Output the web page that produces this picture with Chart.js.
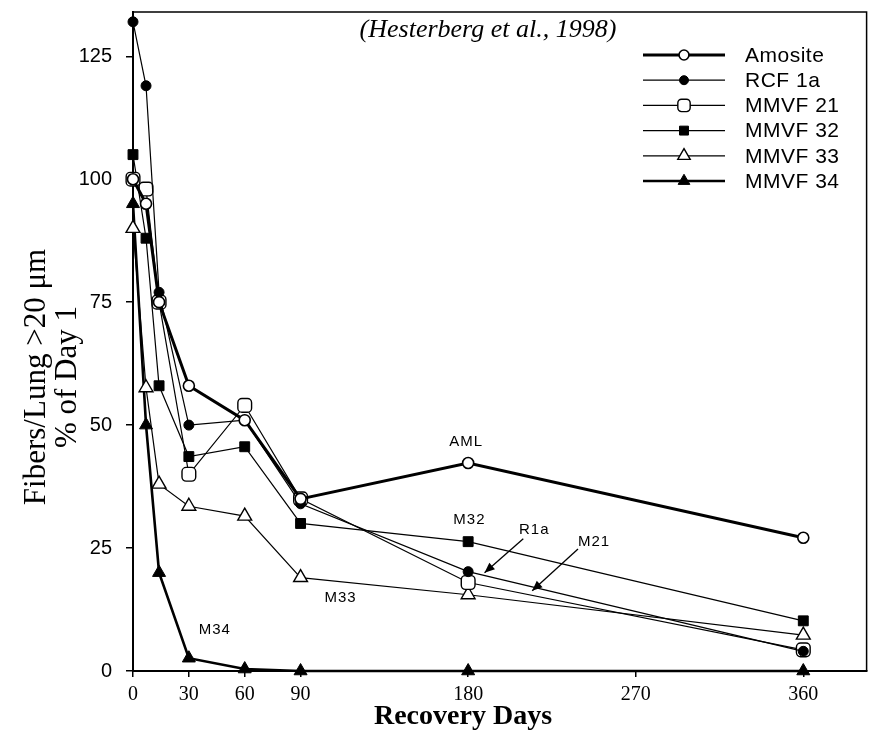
<!DOCTYPE html>
<html>
<head>
<meta charset="utf-8">
<script src="https://cdn.jsdelivr.net/npm/chart.js@4.4.1/dist/chart.umd.min.js"></script>
<style>
html,body{margin:0;padding:0;background:#fff;}
#wrap{width:876px;height:742px;}
</style>
</head>
<body>
<div id="wrap"><canvas id="c" width="876" height="742"></canvas></div>
<script>
// ---- data ----
const days = [0, 7, 14, 30, 60, 90, 180, 360];
const amosite = [100, 95, 75, 58, 51, 35, 42.3, 27.1];
const rcf1a = [132, 119, 77, 50, 51, 34, 20.2, 4];
const mmvf21 = [100, 98, 75, 40, 54, 35, 18, 4.3];
const mmvf32 = [105, 88, 58, 43.6, 45.6, 30, 26.3, 10.2];
const mmvf33 = [90, 57.6, 38, 33.5, 31.5, 19, 15.5, 7.3];
const mmvf34 = [95, 50, 20, 2.6, 0.4, 0, 0, 0];
const seriesNames = ['Amosite', 'RCF1a', 'MMVF21', 'MMVF32', 'MMVF33', 'MMVF34'];
const legendLabels = ['Amosite', 'RCF 1a', 'MMVF 21', 'MMVF 32', 'MMVF 33', 'MMVF 34'];
const xTickValues = [0, 30, 60, 90, 180, 270, 360];
const yTickStep = 25;
const chartTitle = '(Hesterberg et al., 1998)';
const xTitle = 'Recovery Days';
const yTitleLines = ['Fibers/Lung >20 \u03BCm', '% of Day 1'];
// in-plot labels (data coordinates)
const noteText = ['AML', 'M32', 'R1a', 'M21', 'M33', 'M34'];
const noteDay = [179, 180.7, 215.5, 247.6, 111.5, 43.9];
const noteVal = [46.6, 30.7, 28.7, 26.3, 14.9, 8.3];
const arrowFromDay = [209.6, 239];
const arrowFromVal = [26.9, 24.8];
const arrowToDay = [188.8, 214.4];
const arrowToVal = [20, 16.3];

function pts(vals){ return days.map((d,i)=>({x:d, y:vals[i]})); }

const styles = [
  {data:amosite, bw:3,   ps:'circle',      r:5.5, fill:'#fff', pbw:1.6},
  {data:rcf1a,   bw:1.2, ps:'circle',      r:5,   fill:'#000', pbw:1},
  {data:mmvf21,  bw:1.2, ps:'rectRounded', r:8,   fill:'#fff', pbw:1.4},
  {data:mmvf32,  bw:1.2, ps:'rect',        r:7,   fill:'#000', pbw:1},
  {data:mmvf33,  bw:1.2, ps:'triangle',    r:8,   fill:'#fff', pbw:1.4},
  {data:mmvf34,  bw:2.6, ps:'triangle',    r:7.5, fill:'#000', pbw:1}
];

const datasets = styles.map((s,i)=>({
  label: seriesNames[i],
  data: pts(s.data),
  borderColor:'#000',
  borderWidth:s.bw,
  pointStyle:s.ps,
  pointRadius:s.r,
  pointHoverRadius:s.r,
  pointBackgroundColor:s.fill,
  pointBorderColor:'#000',
  pointBorderWidth:s.pbw,
  tension:0,
  fill:false,
  clip:false
}));

const decor = {
  id:'decor',
  afterDraw(chart){
    const ctx = chart.ctx, a = chart.chartArea;
    const xs = chart.scales.x, ys = chart.scales.y;
    ctx.save();
    // frame top & right
    ctx.strokeStyle='#000'; ctx.lineWidth=1.5;
    ctx.beginPath();
    ctx.moveTo(a.left, a.top); ctx.lineTo(a.right, a.top); ctx.lineTo(a.right, a.bottom);
    ctx.stroke();
    // title
    ctx.fillStyle='#000';
    ctx.textAlign='center'; ctx.textBaseline='middle';
    ctx.font='italic 26px "Liberation Serif", "Times New Roman", serif';
    ctx.fillText(chartTitle, 488, 30);
    // x title
    ctx.font='bold 28px "Liberation Serif", "Times New Roman", serif';
    ctx.fillText(xTitle, 463, 717);
    // y title
    ctx.save();
    ctx.translate(37, 377); ctx.rotate(-Math.PI/2);
    ctx.font='31px "Liberation Serif", "Times New Roman", serif';
    ctx.fillText(yTitleLines[0], 0, 0);
    ctx.fillText(yTitleLines[1], 0, 31);
    ctx.restore();
    // notes
    ctx.font='15px "Liberation Sans", Arial, sans-serif';
    ctx.letterSpacing='1px';
    noteText.forEach((t,i)=>{
      ctx.fillText(t, xs.getPixelForValue(noteDay[i]), ys.getPixelForValue(noteVal[i]));
    });
    ctx.letterSpacing='0px';
    // arrows
    ctx.lineWidth=1.3;
    arrowFromDay.forEach((d,i)=>{
      const x1=xs.getPixelForValue(d), y1=ys.getPixelForValue(arrowFromVal[i]);
      const x2=xs.getPixelForValue(arrowToDay[i]), y2=ys.getPixelForValue(arrowToVal[i]);
      ctx.beginPath(); ctx.moveTo(x1,y1); ctx.lineTo(x2,y2); ctx.stroke();
      const ang=Math.atan2(y2-y1,x2-x1), L=11, W=0.4;
      ctx.beginPath();
      ctx.moveTo(x2,y2);
      ctx.lineTo(x2-L*Math.cos(ang-W), y2-L*Math.sin(ang-W));
      ctx.lineTo(x2-L*Math.cos(ang+W), y2-L*Math.sin(ang+W));
      ctx.closePath(); ctx.fill();
    });
    // legend
    const lx0=643, lx1=725, tx=745, ly0=55, dy=25.2;
    ctx.textAlign='left';
    ctx.font='21px "Liberation Sans", Arial, sans-serif';
    ctx.letterSpacing='0.5px';
    datasets.forEach((ds,i)=>{
      const y=ly0+i*dy;
      ctx.strokeStyle='#000'; ctx.lineWidth=ds.borderWidth;
      ctx.beginPath(); ctx.moveTo(lx0,y); ctx.lineTo(lx1,y); ctx.stroke();
      ctx.lineWidth=ds.pointBorderWidth;
      ctx.fillStyle=ds.pointBackgroundColor;
      ctx.strokeStyle='#000';
      Chart.helpers.drawPoint(ctx, {pointStyle:ds.pointStyle, rotation:0, radius:ds.pointRadius*0.9, borderWidth:ds.pointBorderWidth}, (lx0+lx1)/2, y);
      ctx.fillStyle='#000';
      ctx.fillText(legendLabels[i], tx, y+1);
    });
    ctx.restore();
  }
};

new Chart(document.getElementById('c'), {
  type:'line',
  data:{datasets},
  options:{
    responsive:false,
    animation:false,
    events:[],
    layout:{padding:{top:12, right:3, left:0, bottom:0}},
    plugins:{legend:{display:false}, title:{display:false}, tooltip:{enabled:false}},
    scales:{
      x:{
        type:'linear', min:0, max:394,
        afterBuildTicks(s){ s.ticks = xTickValues.map(v=>({value:v})); },
        afterFit(s){ s.height = 71; s.paddingLeft = 0; s.paddingRight = 0; },
        grid:{drawOnChartArea:false, drawTicks:true, tickLength:6, color:'#000', lineWidth:1.5},
        border:{display:true, color:'#000', width:2},
        ticks:{color:'#000', padding:6, maxRotation:0, autoSkip:false,
               font:{family:'"Liberation Serif", "Times New Roman", serif', size:20}}
      },
      y:{
        type:'linear', min:0, max:134,
        afterBuildTicks(s){ const t=[]; for(let v=0; v<=125; v+=yTickStep) t.push({value:v}); s.ticks=t; },
        afterFit(s){ s.width = 133; s.paddingTop = 0; s.paddingBottom = 0; },
        grid:{drawOnChartArea:false, drawTicks:true, tickLength:7, color:'#000', lineWidth:1.5},
        border:{display:true, color:'#000', width:2},
        ticks:{color:'#000', padding:14,
               font:{family:'"Liberation Sans", Arial, sans-serif', size:20}}
      }
    }
  },
  plugins:[decor]
});
</script>
</body>
</html>
